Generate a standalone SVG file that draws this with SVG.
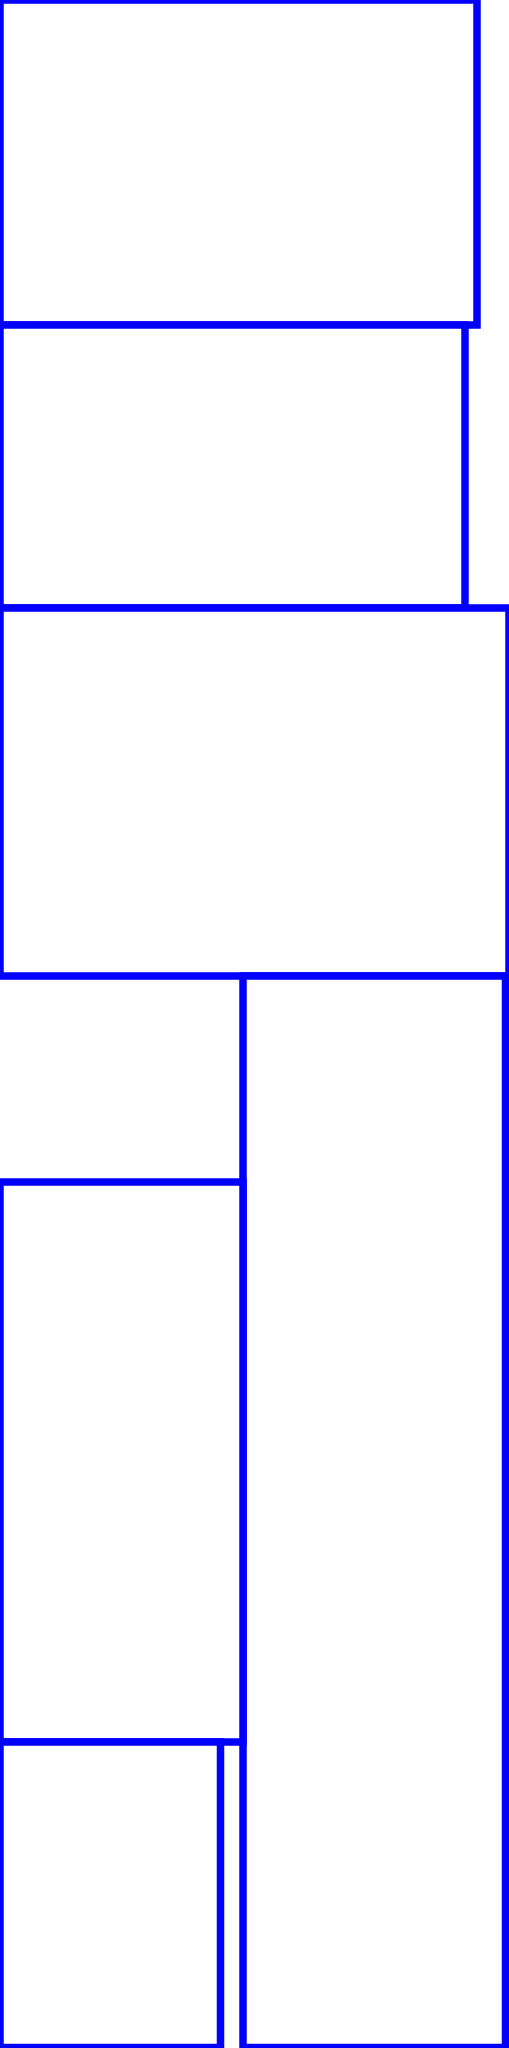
<svg xmlns="http://www.w3.org/2000/svg" width="509" height="2048" viewBox="0 0 509 2048">
<style>
.box{fill:#ffffff;stroke:#0000ff;stroke-width:7.5}
</style>
<rect x="0" y="0" width="509" height="2048" fill="#ffffff"/>
<g id="n1"><rect class="box" x="0" y="0" width="477" height="325"/></g>
<g id="n2"><rect class="box" x="0" y="325" width="465" height="283"/></g>
<g id="n3"><rect class="box" x="0" y="608" width="509" height="368"/></g>
<g id="n4"><rect class="box" x="243" y="976" width="262.5" height="1071.5"/></g>
<g id="n5"><rect class="box" x="0" y="1182" width="243" height="560"/></g>
<g id="n6"><rect class="box" x="0" y="1742" width="220.5" height="305.5"/></g>
<g id="connectors"></g>
</svg>
